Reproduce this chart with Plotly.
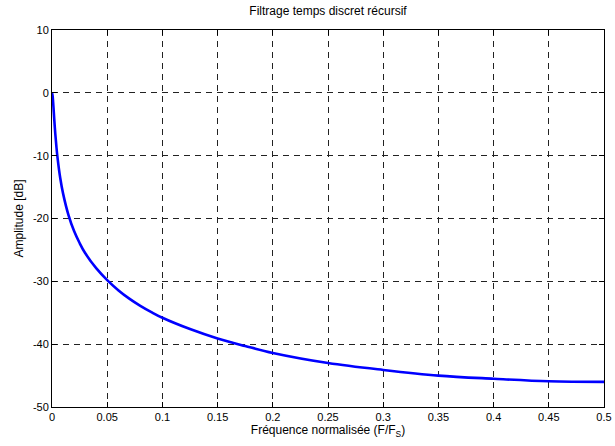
import plotly.graph_objects as go

# Values (normalised frequency, amplitude in dB)
freq = [0.0, 0.0005, 0.001, 0.0015, 0.002, 0.003, 0.004, 0.005, 0.0075, 0.01,
        0.015, 0.02, 0.025, 0.03, 0.04, 0.05, 0.06, 0.07, 0.08, 0.09, 0.1,
        0.125, 0.15, 0.175, 0.2, 0.25, 0.3, 0.35, 0.4, 0.45, 0.5]
amp_db = [0.0, -0.41, -1.43, -2.74, -4.1, -6.55, -8.6, -10.3, -13.6, -16.0,
          -19.5, -22.0, -23.9, -25.5, -27.9, -29.8, -31.4, -32.75, -33.9, -34.9, -35.8,
          -37.6, -39.1, -40.3, -41.4, -43.0, -44.1, -45.0, -45.5, -45.9, -46.0]

x_ticks = [0, 0.05, 0.1, 0.15, 0.2, 0.25, 0.3, 0.35, 0.4, 0.45, 0.5]
x_tick_labels = ["0", "0.05", "0.1", "0.15", "0.2", "0.25", "0.3", "0.35", "0.4", "0.45", "0.5"]
y_ticks = [-50, -40, -30, -20, -10, 0, 10]
y_tick_labels = ["-50", "-40", "-30", "-20", "-10", "0", "10"]

font = "Liberation Sans, Arial, Helvetica, sans-serif"

fig = go.Figure()
fig.add_trace(go.Scatter(x=freq, y=amp_db, mode="lines",
                         line=dict(color="#0000FF", width=2.6, shape="spline"),
                         showlegend=False))

axis_common = dict(
    showline=True, linecolor="black", linewidth=1, mirror="ticks",
    ticks="inside", ticklen=5, tickcolor="black",
    showgrid=True, gridcolor="#222222", gridwidth=1, griddash="6px,5px",
    zeroline=False, automargin=False,
    tickfont=dict(family=font, size=11, color="black"),
)

fig.update_xaxes(range=[0, 0.5], tickvals=x_ticks, ticktext=x_tick_labels,
                 title=dict(text="Fréquence normalisée (F/F<sub>S</sub>)",
                            font=dict(family=font, size=12, color="black"), standoff=2),
                 **axis_common)
fig.update_yaxes(range=[-50, 10], tickvals=y_ticks, ticktext=y_tick_labels,
                 title=dict(text="Amplitude [dB]",
                            font=dict(family=font, size=12, color="black"), standoff=6),
                 **axis_common)

fig.update_layout(
    width=615, height=446,
    margin=dict(l=52, r=11, t=30, b=39, autoexpand=False),
    paper_bgcolor="white", plot_bgcolor="white",
    title=dict(text="Filtrage temps discret récursif", x=0.5, xanchor="center",
               xref="paper", yref="container", y=0.975, yanchor="middle",
               automargin=False,
               font=dict(family=font, size=12, color="black")),
)

fig.write_html("out.html",
               config={"displayModeBar": False},
               post_script="document.body.style.margin='0';document.body.style.overflow='hidden';")
